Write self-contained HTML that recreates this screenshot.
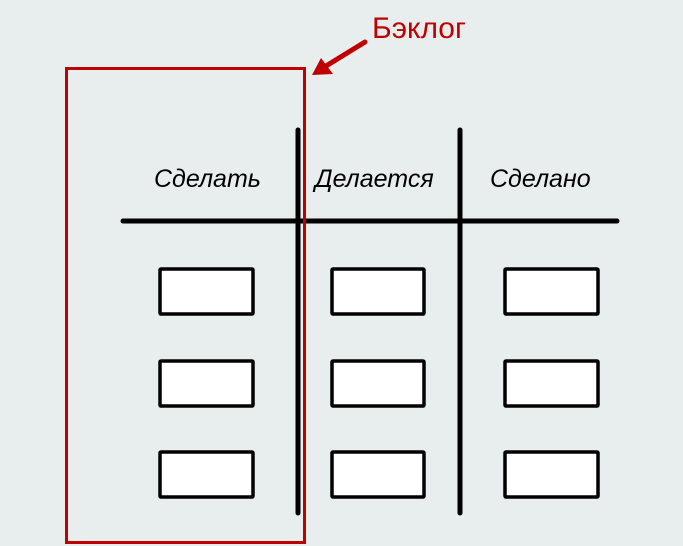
<!DOCTYPE html>
<html><head><meta charset="utf-8"><style>
html,body{margin:0;padding:0;background:#e8eeee;}
</style></head><body>
<svg width="683" height="546" viewBox="0 0 683 546" xmlns="http://www.w3.org/2000/svg" style="display:block">
<rect width="683" height="546" fill="#e8eeee"/>
<g stroke="#000" stroke-linecap="round">
<line x1="123" y1="221" x2="617" y2="221" stroke-width="5"/>
<line x1="298" y1="130" x2="298" y2="513" stroke-width="5"/>
<line x1="460" y1="130" x2="460" y2="513" stroke-width="5"/>
</g>
<g fill="#fff" stroke="#000" stroke-width="3.5">
<rect x="160" y="269" width="93" height="45" rx="1"/>
<rect x="160" y="361" width="93" height="45" rx="1"/>
<rect x="160" y="452" width="93" height="45" rx="1"/>
<rect x="332" y="269" width="92" height="45" rx="1"/>
<rect x="332" y="361" width="92" height="45" rx="1"/>
<rect x="332" y="452" width="92" height="45" rx="1"/>
<rect x="505" y="269" width="93" height="45" rx="1"/>
<rect x="505" y="361" width="93" height="45" rx="1"/>
<rect x="505" y="452" width="93" height="45" rx="1"/>
</g>
<g font-family="Liberation Sans, sans-serif" font-style="italic" font-size="25" fill="#000">
<text x="154" y="187">Сделать</text>
<text x="315" y="187">Делается</text>
<text x="490" y="187">Сделано</text>
</g>
<rect x="66.5" y="68.5" width="238" height="474" fill="none" stroke="#c00000" stroke-width="3"/>
<line x1="365" y1="42" x2="326" y2="66" stroke="#c00000" stroke-width="5" stroke-linecap="round"/>
<polygon points="312,75 321,58 333,74" fill="#c00000"/>
<text x="372" y="38" font-family="Liberation Sans, sans-serif" font-size="30" fill="#c00000">Бэклог</text>
</svg>
</body></html>
